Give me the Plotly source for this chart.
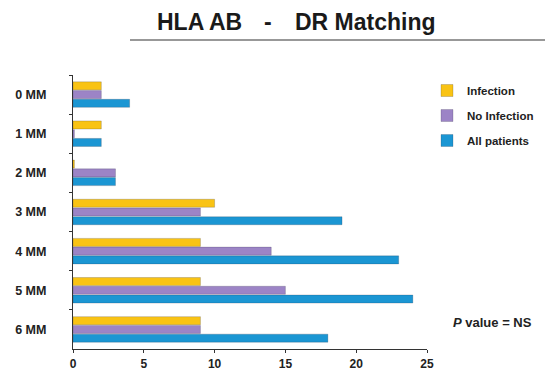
import plotly.graph_objects as go

categories = ["0 MM", "1 MM", "2 MM", "3 MM", "4 MM", "5 MM", "6 MM"]
infection = [2, 2, 0.1, 10, 9, 9, 9]
no_infection = [2, 0.1, 3, 9, 14, 15, 9]
all_patients = [4, 2, 3, 19, 23, 24, 18]
x_ticks = [0, 5, 10, 15, 20, 25]

series = [
    ("Infection", infection, "#F9C314"),
    ("No Infection", no_infection, "#9C84C6"),
    ("All patients", all_patients, "#1B96D3"),
]

fig = go.Figure()
for i, (name, vals, col) in enumerate(series):
    fig.add_trace(go.Bar(
        y=categories, x=vals, name=name, orientation="h",
        marker=dict(color=col, line=dict(color="rgba(40,40,60,0.35)", width=0.6)),
        legendgroup=str(i),
    ))

font_fam = "Liberation Sans, Arial, sans-serif"

fig.update_layout(
    width=545, height=369,
    margin=dict(l=73, r=118, t=75, b=20),
    paper_bgcolor="white", plot_bgcolor="white",
    barmode="group", bargap=0.33, bargroupgap=0.08,
    showlegend=True,
    legend=dict(
        xref="container", yref="container",
        x=427 / 545, y=1 - 76 / 369, xanchor="left", yanchor="top",
        traceorder="grouped", tracegroupgap=6,
        font=dict(family=font_fam, size=11.5, color="#222", weight="bold"),
        itemwidth=30, bgcolor="rgba(0,0,0,0)",
    ),
    xaxis=dict(
        range=[0, 25], tickvals=x_ticks, showgrid=False, zeroline=False,
        showline=True, linecolor="#333", linewidth=1.2,
        ticks="outside", ticklen=3, tickcolor="#333",
        tickfont=dict(family=font_fam, size=12, color="#222", weight="bold"),
        automargin=False, fixedrange=True,
    ),
    yaxis=dict(
        autorange="reversed", showgrid=False, zeroline=False,
        showline=True, linecolor="#333", linewidth=1.2,
        ticks="outside", ticklen=3, tickcolor="#333", tickson="boundaries",
        ticklabelstandoff=23,
        tickfont=dict(family=font_fam, size=12.5, color="#222", weight="bold"),
        automargin=False,
    ),
)

title_font = dict(family=font_fam, size=23, color="#1a1a1a", weight="bold")
for txt, px in [("HLA AB", 199), ("-", 268), ("DR Matching", 365)]:
    fig.add_annotation(
        text=txt, xref="paper", yref="paper",
        x=(px - 73) / 354, y=(349 - 22) / 274,
        xanchor="center", yanchor="middle", showarrow=False, font=title_font,
    )

fig.add_shape(
    type="line", xref="paper", yref="paper",
    x0=(130 - 73) / 354, x1=(545 - 73) / 354,
    y0=(349 - 40) / 274, y1=(349 - 40) / 274,
    line=dict(color="#333", width=1.2),
)

fig.add_annotation(
    text="<i>P</i> value = NS", xref="paper", yref="paper",
    x=(492 - 73) / 354, y=(349 - 322) / 274,
    xanchor="center", yanchor="middle", showarrow=False,
    font=dict(family=font_fam, size=13, color="#222", weight="bold"),
)

fig.write_html(
    "out.html",
    config={"displayModeBar": False},
    post_script="document.body.style.margin='0';document.body.style.padding='0';",
)
